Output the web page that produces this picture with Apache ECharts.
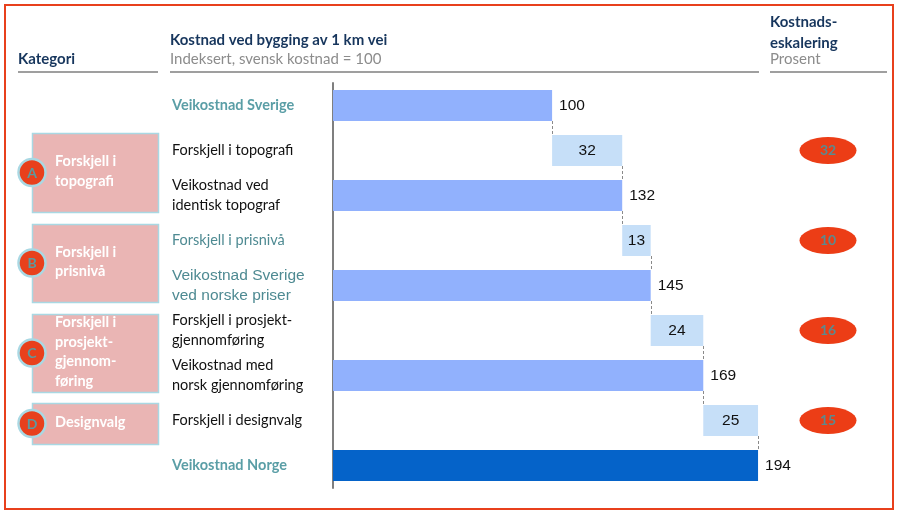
<!DOCTYPE html>
<html>
<head>
<meta charset="utf-8">
<script src="https://cdn.jsdelivr.net/npm/echarts@6/dist/echarts.min.js"></script>
<style>
html,body{margin:0;padding:0;background:#fff;}
#chart{width:899px;height:514px;}
</style>
</head>
<body>
<div id="chart"></div>
<script>
// ---- Data ----
const categories = [
  'Veikostnad Sverige',
  'Forskjell i topografi',
  'Veikostnad ved\nidentisk topograf',
  'Forskjell i prisnivå',
  'Veikostnad Sverige\nved norske priser',
  'Forskjell i prosjekt-\ngjennomføring',
  'Veikostnad med\nnorsk gjennomføring',
  'Forskjell i designvalg',
  'Veikostnad Norge'
];
const totals = [100, null, 132, null, 145, null, 169, null, 194];
const deltas = [null, 32, null, 13, null, 24, null, 25, null];
const escalation = [null, 32, null, 10, null, 16, null, 15, null];
const groupLetters = ['A', 'B', 'C', 'D'];
const groupNames = ['Forskjell i\ntopografi', 'Forskjell i\nprisnivå', 'Forskjell i\nprosjekt-\ngjennom-\nføring', 'Designvalg'];
const labelStyleKeys = ['b', 'n', 'n', 't', 'a', 'n', 'n', 'n', 'b'];

// ---- Derived (waterfall) ----
const base = [];
const running = [];
let cur = 0;
for (let i = 0; i < categories.length; i++) {
  if (deltas[i] != null) { base.push(cur); cur = cur + deltas[i]; }
  else { base.push(null); cur = totals[i]; }
  running.push(cur);
}
const connectors = [];
for (let i = 0; i < categories.length - 1; i++) connectors.push([running[i], i]);
const escData = [];
escalation.forEach((v, i) => { if (v != null) escData.push({ value: [1, i], label: { formatter: String(v) } }); });

const BAR_W = 31;
const FONT = 'Lato, "Open Sans", sans-serif';
const NAVY = '#17365d';
const TEAL_B = '#5a9ea6';
const TEAL = '#4e8a92';

const chart = echarts.init(document.getElementById('chart'));

const boxes = [
  { top: 133, bottom: 212 },
  { top: 224, bottom: 302 },
  { top: 314, bottom: 392 },
  { top: 403, bottom: 444 }
];

const graphics = [
  { type: 'rect', shape: { x: 5, y: 5, width: 888, height: 504 }, style: { fill: 'none', stroke: '#e8401c', lineWidth: 2 }, z: 100 },
  { type: 'text', left: 18, top: 52, style: { text: 'Kategori', font: 'bold 15px ' + FONT, fill: NAVY } },
  { type: 'line', shape: { x1: 18, y1: 72, x2: 158, y2: 72 }, style: { stroke: '#7f7f7f', lineWidth: 1.3 } },
  { type: 'text', left: 170, top: 33, style: { text: 'Kostnad ved bygging av 1 km vei', font: 'bold 15px ' + FONT, fill: NAVY } },
  { type: 'text', left: 170, top: 52, style: { text: 'Indeksert, svensk kostnad = 100', font: '15px ' + FONT, fill: '#8c8c8c' } },
  { type: 'line', shape: { x1: 170, y1: 72, x2: 759, y2: 72 }, style: { stroke: '#7f7f7f', lineWidth: 1.3 } },
  { type: 'text', left: 770, top: 12, style: { text: 'Kostnads-\neskalering', font: 'bold 15px ' + FONT, fill: NAVY, lineHeight: 21 } },
  { type: 'text', left: 770, top: 52, style: { text: 'Prosent', font: '15px ' + FONT, fill: '#8c8c8c' } },
  { type: 'line', shape: { x1: 770, y1: 72, x2: 887, y2: 72 }, style: { stroke: '#7f7f7f', lineWidth: 1.3 } }
];
boxes.forEach((b, i) => {
  const cy = (b.top + b.bottom) / 2;
  graphics.push({ type: 'rect', shape: { x: 32.5, y: b.top + 0.5, width: 126, height: b.bottom - b.top }, style: { fill: '#eab5b4', stroke: '#a9d8e3', lineWidth: 1.5 } });
  graphics.push({ type: 'text', x: 55, y: cy - 1, style: { text: groupNames[i], font: 'bold 14.5px ' + FONT, fill: '#ffffff', lineHeight: 19.5, verticalAlign: 'middle', align: 'left' } });
  graphics.push({ type: 'circle', shape: { cx: 32, cy: cy, r: 13.5 }, style: { fill: '#e8401c', stroke: '#a9d8e3', lineWidth: 2.5 } });
  graphics.push({ type: 'text', x: 32, y: cy + 0.5, style: { text: groupLetters[i], font: 'bold 14px ' + FONT, fill: '#5b9aa0', align: 'center', verticalAlign: 'middle' } });
});

const option = {
  animation: false,
  backgroundColor: '#fff',
  grid: [
    { left: 333, top: 83, height: 405, width: 436 },
    { left: 800, top: 83, height: 405, width: 56 }
  ],
  xAxis: [
    { type: 'value', min: 0, max: 199, gridIndex: 0, show: false },
    { type: 'value', min: 0, max: 2, gridIndex: 1, show: false }
  ],
  yAxis: [
    {
      type: 'category', data: categories, inverse: true, gridIndex: 0,
      axisLine: { show: true, lineStyle: { color: '#7f7f7f', width: 2 } },
      axisTick: { show: false },
      splitLine: { show: false },
      axisLabel: {
        align: 'left', margin: 161,
        formatter: function (v, idx) {
          const k = labelStyleKeys[idx];
          return v.split('\n').map(s => '{' + k + '|' + s + '}').join('\n');
        },
        rich: {
          b: { fontFamily: FONT, fontWeight: 'bold', fontSize: 14.5, color: TEAL_B, lineHeight: 20 },
          n: { fontFamily: FONT, fontSize: 14.5, color: '#111', lineHeight: 20 },
          t: { fontFamily: FONT, fontSize: 14.5, color: TEAL, lineHeight: 20 },
          a: { fontFamily: 'Arial, "Liberation Sans", sans-serif', fontSize: 15.5, color: TEAL, lineHeight: 20 }
        }
      }
    },
    { type: 'category', data: categories, inverse: true, gridIndex: 1, show: false }
  ],
  series: [
    {
      name: 'base', type: 'bar', stack: 'w', barWidth: BAR_W, data: base,
      itemStyle: { color: 'transparent' }, silent: true
    },
    {
      name: 'total', type: 'bar', stack: 'w', barWidth: BAR_W, data: totals,
      itemStyle: { color: function (p) { return p.dataIndex === categories.length - 1 ? '#0563c9' : '#91b1fd'; } },
      label: { show: true, position: 'right', distance: 7, color: '#111', fontFamily: 'Arial, "Liberation Sans", sans-serif', fontSize: 15.5 }
    },
    {
      name: 'delta', type: 'bar', stack: 'w', barWidth: BAR_W, data: deltas,
      itemStyle: { color: '#c6dff8' },
      label: { show: true, position: 'inside', color: '#111', fontFamily: 'Arial, "Liberation Sans", sans-serif', fontSize: 15.5 }
    },
    {
      name: 'connectors', type: 'custom', xAxisIndex: 0, yAxisIndex: 0, data: connectors,
      encode: { x: 0, y: 1 }, silent: true, z: 5,
      renderItem: function (params, api) {
        const p1 = api.coord([api.value(0), api.value(1)]);
        const p2 = api.coord([api.value(0), api.value(1) + 1]);
        const x = Math.round(p1[0]) + 0.5;
        return {
          type: 'line',
          shape: { x1: x, y1: p1[1] + BAR_W / 2, x2: x, y2: p2[1] - BAR_W / 2 },
          style: { stroke: '#8a8a8a', lineWidth: 1, lineDash: [3, 2] }
        };
      }
    },
    {
      name: 'escalation', type: 'scatter', xAxisIndex: 1, yAxisIndex: 1, data: escData,
      symbol: 'circle', symbolSize: [57, 27],
      itemStyle: { color: '#ec3d16', opacity: 1 },
      label: { show: true, position: 'inside', color: '#5b8a90', fontFamily: FONT, fontWeight: 'bold', fontSize: 14 }
    }
  ],
  graphic: graphics
};
chart.setOption(option);
</script>
</body>
</html>
